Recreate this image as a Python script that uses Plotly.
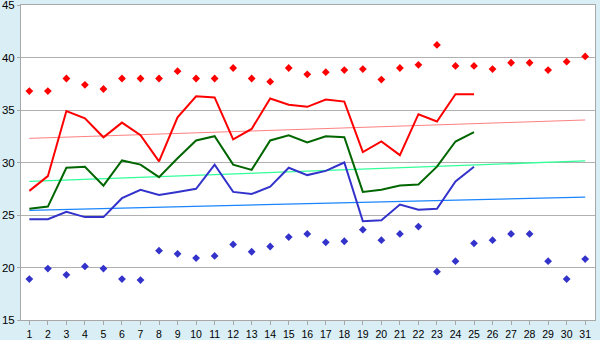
import plotly.graph_objects as go

days = list(range(1, 32))
line_days = list(range(1, 26))

max_points = [36.8, 36.8, 38.0, 37.4, 37.0, 38.0, 38.0, 38.0, 38.7, 38.0,
              38.0, 39.0, 38.0, 37.7, 39.0, 38.4, 38.6, 38.8, 38.9, 37.9,
              39.0, 39.3, 41.2, 39.2, 39.2, 38.9, 39.5, 39.5, 38.8, 39.6, 40.1]
min_points = [18.9, 19.9, 19.3, 20.1, 19.9, 18.9, 18.8, 21.6, 21.3, 20.9,
              21.1, 22.2, 21.5, 22.0, 22.9, 23.2, 22.4, 22.5, 23.6, 22.6,
              23.2, 23.9, 19.6, 20.6, 22.3, 22.6, 23.2, 23.2, 20.6, 18.9, 20.8]

red_line = [27.3, 28.7, 34.9, 34.2, 32.4, 33.8, 32.6, 30.1, 34.3, 36.3,
            36.2, 32.2, 33.2, 36.1, 35.5, 35.3, 36.0, 35.8, 31.0, 32.0,
            30.7, 34.6, 33.9, 36.5, 36.5]
green_line = [25.6, 25.8, 29.5, 29.6, 27.8, 30.2, 29.8, 28.6, 30.4, 32.1,
              32.5, 29.8, 29.3, 32.1, 32.6, 31.9, 32.5, 32.4, 27.2, 27.4,
              27.8, 27.9, 29.6, 32.0, 32.9]
blue_line = [24.6, 24.6, 25.3, 24.8, 24.8, 26.6, 27.4, 26.9, 27.2, 27.5,
             29.8, 27.2, 27.0, 27.7, 29.5, 28.8, 29.2, 30.0, 24.4, 24.5,
             26.0, 25.5, 25.6, 28.2, 29.6]

trend_days = [1, 31]
red_trend = [32.3, 34.05]
green_trend = [28.2, 30.15]
blue_trend = [25.45, 26.7]

y_ticks = [15, 20, 25, 30, 35, 40, 45]

fig = go.Figure()

# trend lines
fig.add_trace(go.Scatter(x=trend_days, y=red_trend, mode="lines",
                         line=dict(color="#ff8080", width=1)))
fig.add_trace(go.Scatter(x=trend_days, y=green_trend, mode="lines",
                         line=dict(color="#33ff99", width=1.3)))
fig.add_trace(go.Scatter(x=trend_days, y=blue_trend, mode="lines",
                         line=dict(color="#1a85ff", width=1.3)))

# main lines
fig.add_trace(go.Scatter(x=line_days, y=red_line, mode="lines",
                         line=dict(color="#ff0000", width=2)))
fig.add_trace(go.Scatter(x=line_days, y=green_line, mode="lines",
                         line=dict(color="#006600", width=2)))
fig.add_trace(go.Scatter(x=line_days, y=blue_line, mode="lines",
                         line=dict(color="#3333cc", width=2)))

# extreme points
fig.add_trace(go.Scatter(x=days, y=max_points, mode="markers",
                         marker=dict(symbol="diamond", size=6, color="#ff0000")))
fig.add_trace(go.Scatter(x=days, y=min_points, mode="markers",
                         marker=dict(symbol="diamond", size=6, color="#3333cc")))

fig.update_layout(
    width=600, height=340,
    margin=dict(l=21, r=5, t=5, b=20, autoexpand=False),
    paper_bgcolor="#d9eef5",
    plot_bgcolor="#ffffff",
    showlegend=False,
    font=dict(family="Liberation Sans", size=11, color="#000000"),
)
fig.update_xaxes(
    range=[0.55, 31.53], tickmode="array", tickvals=days,
    ticktext=[str(d) for d in days],
    showgrid=False, zeroline=False, automargin=False,
    showline=True, linecolor="#a8a8a8", linewidth=1, mirror=True,
    ticks="outside", ticklen=4, tickcolor="#a8a8a8",
    tickfont=dict(family="Liberation Sans", size=10.5),
    ticklabeloverflow="allow",
)
fig.update_yaxes(
    range=[15, 45], tickmode="array", tickvals=y_ticks,
    ticktext=[str(v) for v in y_ticks],
    showgrid=True, gridcolor="#b0b0b0", gridwidth=1, zeroline=False,
    automargin=False,
    showline=True, linecolor="#a8a8a8", linewidth=1, mirror=True,
    ticks="outside", ticklen=3, tickcolor="#a8a8a8",
    tickfont=dict(family="Liberation Sans", size=11.5),
    ticklabeloverflow="allow",
)

fig.write_html("out.html")
